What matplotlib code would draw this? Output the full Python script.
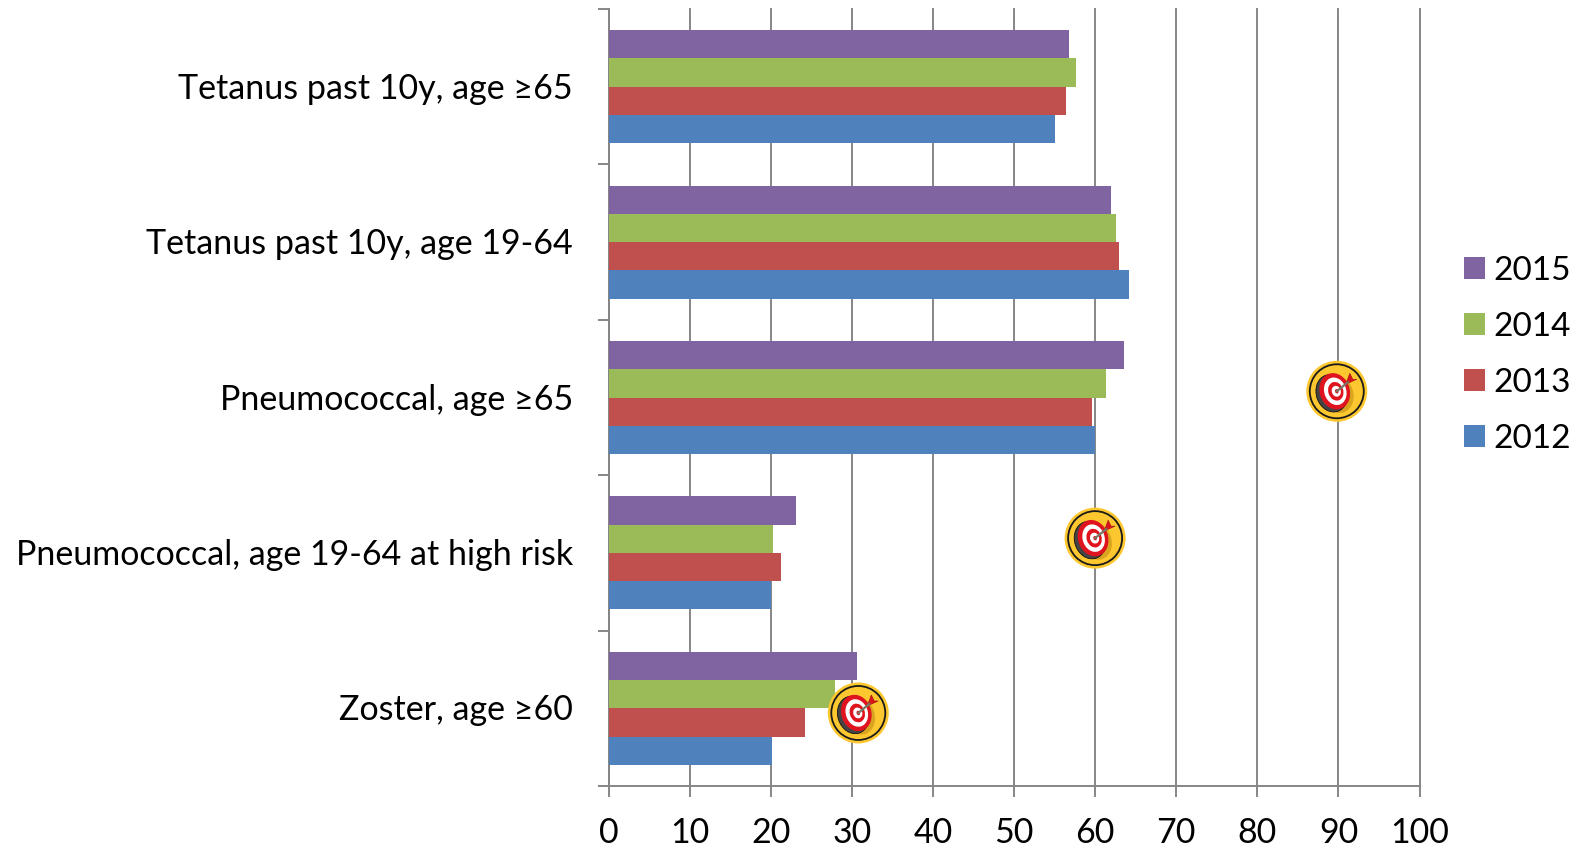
import matplotlib
matplotlib.use('Agg')
import numpy as np
import matplotlib.pyplot as plt
from matplotlib.patches import Circle, Ellipse, Polygon
from matplotlib.lines import Line2D

categories = ['Zoster, age ≥60', 'Pneumococcal, age 19-64 at high risk', 'Pneumococcal, age ≥65',
              'Tetanus past 10y, age 19-64', 'Tetanus past 10y, age ≥65']
v2012 = [20.1, 20.0, 60.0, 64.2, 55.1]
v2013 = [24.2, 21.3, 59.6, 62.9, 56.4]
v2014 = [27.9, 20.3, 61.3, 62.6, 57.7]
v2015 = [30.6, 23.1, 63.6, 62.0, 56.8]
years = ['2012', '2013', '2014', '2015']
colors = ['#4f81bd', '#c0504d', '#9bbb59', '#8064a2']
targets_x = [30.8, 60.0, 89.8]
targets_pos = [-0.03, 1.095, 2.04]

plt.rcParams['font.family'] = ['Lato', 'DejaVu Sans']

fig = plt.figure(figsize=(15.79, 8.48), dpi=100)
ax = fig.add_axes([608.5 / 1579, 1 - 786 / 848, (1419.5 - 608.5) / 1579, (786 - 9) / 848])

y = np.arange(5)
h = 0.182
for i, vals in enumerate([v2012, v2013, v2014, v2015]):
    ax.barh(y + (i - 1.5) * h, vals, height=h, color=colors[i], label=years[i], zorder=3)

ax.set_xlim(0, 100)
ax.set_ylim(-0.5, 4.5)
ax.set_xticks(range(0, 101, 10))
ax.set_yticks(np.arange(-0.5, 5, 1))
ax.set_yticklabels([])
ax.grid(axis='x', color='#868686', lw=1.4, zorder=1, clip_on=False)
for s in ['top', 'right']:
    ax.spines[s].set_visible(False)
for s in ['left', 'bottom']:
    ax.spines[s].set_color('#868686')
    ax.spines[s].set_linewidth(1.4)
ax.tick_params(axis='both', color='#868686', width=1.4, length=8)
ax.tick_params(axis='x', labelsize=24.5, pad=14)

for i, c in enumerate(categories):
    ax.text(-4.4, y[i] - 0.013, c, ha='right', va='center', fontsize=24.5)

# target icons, placed in figure pixels around the data point
for tx, ty in zip(targets_x, targets_pos):
    px, py = ax.transData.transform((tx, ty))
    fx, fy = fig.transFigure.inverted().transform((px, py))
    ia = fig.add_axes([fx - 32 / 1579, fy - 32 / 848, 64 / 1579, 64 / 848], zorder=5)
    ia.set_xlim(-32, 32)
    ia.set_ylim(-32, 32)
    ia.axis('off')
    ia.add_patch(Circle((0, 0), 30.5, fc='#fdc82f', ec='none'))
    ia.add_patch(Circle((0, 0), 27, fc='none', ec='#1a1a1a', lw=1.3))
    ia.add_patch(Ellipse((1, -3), 31, 38, angle=18, fc='#d9a520', ec='none'))
    ia.add_patch(Ellipse((-5, -2), 31, 38, angle=18, fc='#444444', ec='#111111', lw=0.6))
    ia.add_patch(Ellipse((-2, 0), 30, 37, angle=18, fc='#e0141e', ec='none'))
    ia.add_patch(Ellipse((-1.5, 0), 22, 28, angle=18, fc='white', ec='none'))
    ia.add_patch(Ellipse((-1, 0), 15, 19, angle=18, fc='#e0141e', ec='none'))
    ia.add_patch(Ellipse((-0.5, 0), 9, 11, angle=18, fc='white', ec='none'))
    ia.add_patch(Ellipse((0, 0), 3.5, 4.5, angle=18, fc='#e0141e', ec='none'))
    ia.add_line(Line2D([0, 11], [0, 9], color='#777766', lw=1.6))
    ia.add_patch(Polygon([[9, 7], [13, 18], [16, 12], [20, 12]], fc='#d8141c', ec='#a01010', lw=0.4))

handles, labels = ax.get_legend_handles_labels()
fig.legend(handles[::-1], labels[::-1], loc='center left', bbox_to_anchor=(1464 / 1579, 1 - 355 / 848),
           frameon=False, fontsize=24, handlelength=0.64, handleheight=0.64, handletextpad=0.25,
           labelspacing=0.78, borderpad=0, borderaxespad=0)

fig.savefig('out.png', dpi=100)
